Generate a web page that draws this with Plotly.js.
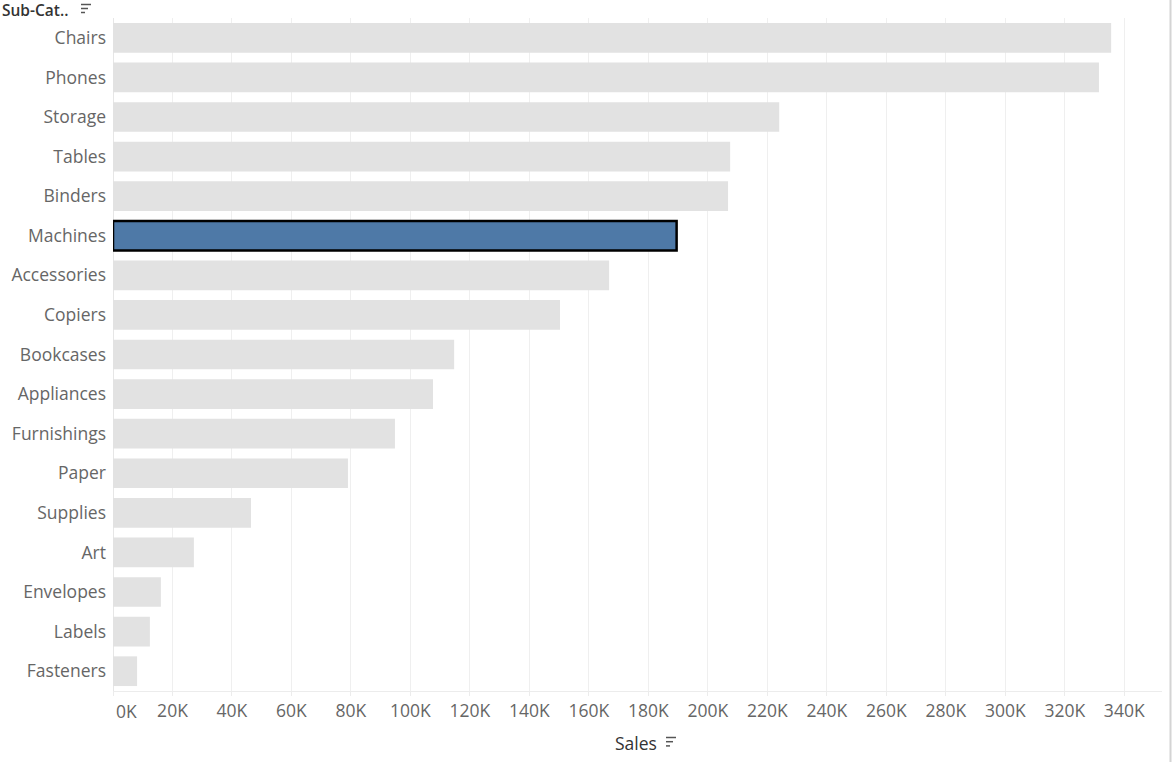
<!DOCTYPE html>
<html>
<head>
<meta charset="utf-8">
<script src="https://cdn.plot.ly/plotly-3.0.1.min.js"></script>
<style>html,body{margin:0;padding:0;background:#fff;}#chart{width:1174px;height:762px;}</style>
</head>
<body>
<div id="chart"></div>
<script>
const categories = ["Chairs","Phones","Storage","Tables","Binders","Machines","Accessories","Copiers","Bookcases","Appliances","Furnishings","Paper","Supplies","Art","Envelopes","Labels","Fasteners"];
const sales = [335600,331500,224000,207500,206800,189500,166800,150300,114700,107600,94800,79000,46400,27200,16100,12400,8100];
const highlighted = "Machines";
const tickValues = [0,20000,40000,60000,80000,100000,120000,140000,160000,180000,200000,220000,240000,260000,280000,300000,320000,340000];
const tickLabels = ["0K","20K","40K","60K","80K","100K","120K","140K","160K","180K","200K","220K","240K","260K","280K","300K","320K","340K"];

const L = 113, R = 1162, T = 18, B = 691;
const px = x => (x - L) / (R - L);
const py = y => (B - y) / (B - T);

const colors = categories.map(c => c === highlighted ? "#4e79a7" : "#e2e2e2");
const lineW = categories.map(c => c === highlighted ? 2.5 : 0);

function sortIcon(x0, y0, gap) {
  const w = [10, 7, 4];
  return w.map((wd, i) => ({
    type: "line", xref: "paper", yref: "paper",
    x0: px(x0), x1: px(x0 + wd), y0: py(y0 + i * gap), y1: py(y0 + i * gap),
    line: {color: "#555", width: 1.5}
  }));
}

const FONT = "Open Sans, sans-serif";
const data = [{
  type: "bar", orientation: "h",
  y: categories, x: sales,
  marker: {color: colors, line: {color: "#000", width: lineW}},
  hoverinfo: "x+y"
}];

const layout = {
  width: 1174, height: 762,
  margin: {l: L, r: 1174 - R, t: T, b: 762 - B, pad: 0},
  paper_bgcolor: "#fff", plot_bgcolor: "#fff",
  bargap: 0.25,
  showlegend: false,
  font: {family: FONT, color: "#666"},
  xaxis: {
    range: [0, 352700],
    tickvals: tickValues, ticktext: tickLabels.map((t, i) => i === 0 ? "" : t),
    tickfont: {size: 17.5, color: "#666"},
    showgrid: true, gridcolor: "#efefef", gridwidth: 1,
    zeroline: true, zerolinecolor: "#e6e6e6", zerolinewidth: 1,
    showline: true, linecolor: "#ececec", linewidth: 1,
    ticks: "outside", ticklen: 4, tickcolor: "#ececec",
    fixedrange: true
  },
  yaxis: {
    autorange: "reversed",
    type: "category",
    tickfont: {size: 17.5, color: "#666"},
    ticks: "", showgrid: false, zeroline: false, showline: false,
    ticklabelstandoff: 6,
    fixedrange: true
  },
  annotations: [
    {text: "Sub-Cat..", xref: "paper", yref: "paper", x: px(1), y: py(9.5), xanchor: "left", yanchor: "middle",
     borderpad: 0, showarrow: false, font: {size: 15.5, color: "#333", family: FONT, weight: 600}},
    {text: "Sales", xref: "paper", yref: "paper", x: px(636), y: py(743), xanchor: "center", yanchor: "middle",
     showarrow: false, font: {size: 17.5, color: "#333", family: FONT}},
    {text: tickLabels[0], xref: "paper", yref: "paper", x: px(114), y: py(711), xanchor: "left", yanchor: "middle",
     showarrow: false, font: {size: 17.5, color: "#666", family: FONT}}
  ],
  shapes: [
    ...sortIcon(81, 4.5, 4),
    ...sortIcon(666, 737.5, 4.2),
    {type: "line", xref: "paper", yref: "paper", x0: px(1170.5), x1: px(1170.5), y0: py(0), y1: py(762),
     line: {color: "#d4d4d4", width: 2}}
  ]
};

Plotly.newPlot("chart", data, layout, {displayModeBar: false, staticPlot: true});
</script>
</body>
</html>
